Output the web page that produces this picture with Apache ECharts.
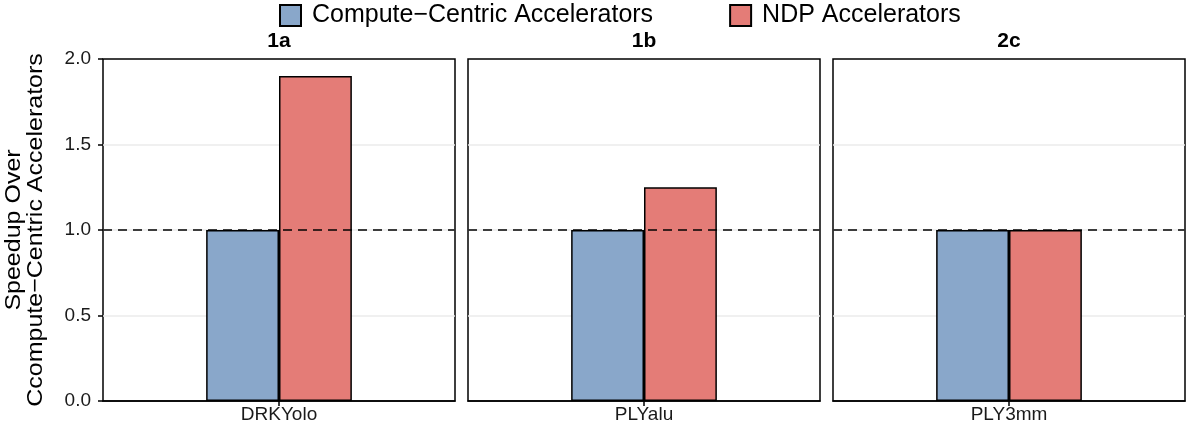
<!DOCTYPE html>
<html>
<head>
<meta charset="utf-8">
<script src="https://cdn.jsdelivr.net/npm/echarts@6/dist/echarts.min.js"></script>
<style>
  html, body { margin: 0; padding: 0; background: #fff; }
  #chart { width: 1188px; height: 430px; }
</style>
</head>
<body>
<div id="chart"></div>
<script>
// data
const panels = ['1a', '1b', '2c'];
const categories = ['DRKYolo', 'PLYalu', 'PLY3mm'];
const computeCentric = [1.0, 1.0, 1.0];
const ndp = [1.9, 1.25, 1.0];
const yTicks = [0, 0.5, 1.0, 1.5, 2.0];
const yTitle = 'Speedup Over\nCcompute\u2212Centric Accelerators';

const font = 'Liberation Sans, Arial, Helvetica, sans-serif';
const blue = '#89A7CA';
const red = '#E47C77';

const myChart = echarts.init(document.getElementById('chart'));

const gridLefts = [103, 468, 833];
const gridW = 352;
const gridTop = 59;
const gridH = 342;

const grids = gridLefts.map((l) => ({
    left: l, top: gridTop, width: gridW, height: gridH,
    show: true, borderColor: '#000', borderWidth: 1.5, backgroundColor: '#fff'
}));

const xAxes = categories.map((c, i) => ({
    type: 'category',
    gridIndex: i,
    data: [c],
    axisLine: { show: true, lineStyle: { color: '#000', width: 1.5 } },
    axisTick: { show: true, alignWithLabel: true, length: 5, lineStyle: { color: '#000', width: 1.5 } },
    axisLabel: { color: '#1a1a1a', fontSize: 19, fontFamily: font, margin: 4 },
    splitLine: { show: false }
}));

const yAxes = panels.map((p, i) => ({
    type: 'value',
    gridIndex: i,
    min: yTicks[0],
    max: yTicks[yTicks.length - 1],
    interval: 0.5,
    axisLine: { show: false },
    axisTick: { show: i === 0, length: 5, lineStyle: { color: '#000', width: 1.5 } },
    axisLabel: {
        show: i === 0, color: '#1a1a1a', fontSize: 19, fontFamily: font, margin: 12,
        formatter: (v) => v.toFixed(1)
    },
    splitLine: { show: true, showMinLine: false, showMaxLine: false, lineStyle: { color: '#ebebeb', width: 1.5 } }
}));

const series = [];
panels.forEach((p, i) => {
    series.push({
        name: 'Compute\u2212Centric Accelerators',
        type: 'bar',
        xAxisIndex: i, yAxisIndex: i,
        data: [computeCentric[i]],
        barWidth: '20.7%',
        barGap: '0%',
        itemStyle: { color: blue, borderColor: '#000', borderWidth: 1.5 },
        z: 3
    });
    series.push({
        name: 'NDP Accelerators',
        type: 'bar',
        xAxisIndex: i, yAxisIndex: i,
        data: [ndp[i]],
        barWidth: '20.7%',
        barGap: '0%',
        itemStyle: { color: red, borderColor: '#000', borderWidth: 1.5 },
        markLine: {
            silent: true,
            symbol: 'none',
            label: { show: false },
            lineStyle: { color: '#000', type: [9, 6], width: 1.5 },
            data: [{ yAxis: 1.0 }]
        },
        z: 3
    });
});

const graphics = panels.map((p, i) => ({
    type: 'text',
    x: gridLefts[i] + gridW / 2,
    y: 41,
    style: {
        text: p, fill: '#000', font: 'bold 21px ' + font,
        textAlign: 'center', textVerticalAlign: 'middle'
    }
}));

// y axis title, rotated and a bit squeezed like the original
graphics.push({
    type: 'text',
    x: 25,
    y: gridTop + gridH / 2,
    rotation: Math.PI / 2,
    scaleY: 0.9,
    style: {
        text: yTitle, fill: '#000', font: '25px ' + font,
        lineHeight: 24.5,
        textAlign: 'center', textVerticalAlign: 'middle'
    }
});

const option = {
    animation: false,
    backgroundColor: '#fff',
    legend: {
        top: 3,
        left: 279,
        padding: 0,
        icon: 'rect',
        itemWidth: 21,
        itemHeight: 21,
        itemGap: 76,
        textStyle: { color: '#000', fontSize: 25, fontFamily: font, padding: [0, 0, 0, 6] },
        data: ['Compute\u2212Centric Accelerators', 'NDP Accelerators']
    },
    grid: grids,
    xAxis: xAxes,
    yAxis: yAxes,
    series: series,
    graphic: graphics
};

myChart.setOption(option);
</script>
</body>
</html>
